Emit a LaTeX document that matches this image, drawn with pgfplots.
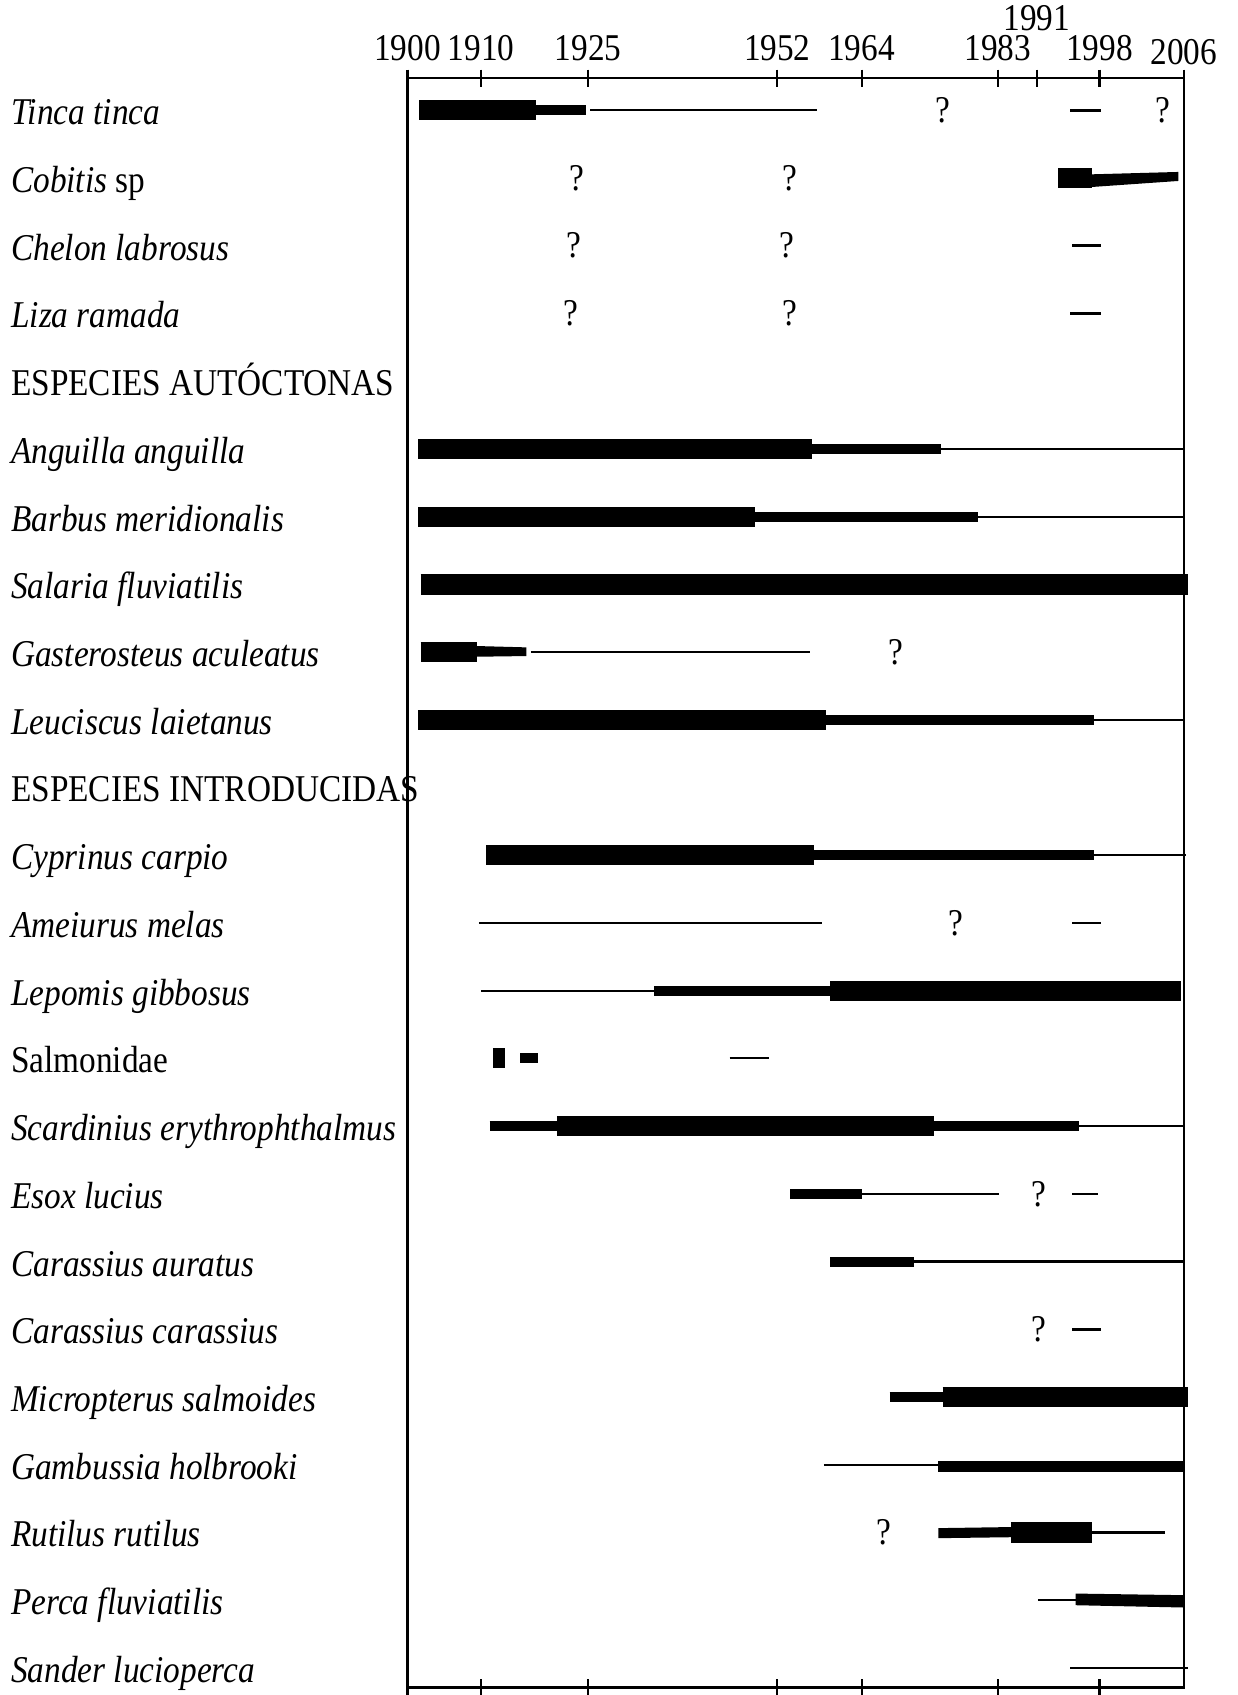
\documentclass[border=0pt]{standalone}
\usepackage{fontspec}
\setmainfont{Liberation Serif}[FakeStretch=0.88]
\usepackage{pgfplots}
\pgfplotsset{compat=1.18}
\newcommand\lf{\fontsize{17.5bp}{21bp}\selectfont}
\pgfplotsset{
  bT/.style={line width=9.3bp, black, mark=none},
  bM/.style={line width=4.6bp, black, mark=none},
  bL/.style={line width=1bp, black, mark=none},
  bD/.style={line width=1.2bp, black, mark=none},
  bP/.style={fill=black, draw=none, mark=none},
  qm/.style={only marks, mark=text, text mark={?}, text mark as node=true,
    text mark style={font=\lf, inner sep=0pt}},
  frame/.style={scale only axis, width=359bp, height=744.25bp,
    xmin=0, xmax=718, ymin=5.29, ymax=242.9, y dir=reverse, clip=false,
    axis line style={line width=1bp}, xtick align=center,
    major tick length=8bp, tick style={line width=1bp, black}},
}
\begin{document}
\begin{tikzpicture}
\begin{axis}[frame,
  xtick={0,68,167,342,420,546,582,640,718},
  xticklabels={1900,1910,1925,1952,1964,1983,\raisebox{14bp}{1991},1998,\raisebox{-2bp}{2006}},
  xtick pos=upper, xticklabel pos=upper,
  xticklabel style={font=\lf, inner sep=0pt, anchor=base, yshift=4.3bp},
  ytick={10,20,...,240},
  yticklabels={\textit{Tinca tinca},\textit{Cobitis} sp,\textit{Chelon labrosus},\textit{Liza ramada},ESPECIES AUTÓCTONAS,\textit{Anguilla anguilla},\textit{Barbus meridionalis},\textit{Salaria fluviatilis},\textit{Gasterosteus aculeatus},\textit{Leuciscus laietanus},ESPECIES INTRODUCIDAS,\textit{Cyprinus carpio},\textit{Ameiurus melas},\textit{Lepomis gibbosus},Salmonidae,\textit{Scardinius erythrophthalmus},\textit{Esox lucius},\textit{Carassius auratus},\textit{Carassius carassius},\textit{Micropterus salmoides},\textit{Gambussia holbrooki},\textit{Rutilus rutilus},\textit{Perca fluviatilis},\textit{Sander lucioperca}},
  ytick style={draw=none},
  yticklabel style={font=\lf, anchor=base west, inner sep=0pt, xshift=-183.5bp, yshift=-6.7bp},
]
% Tinca tinca
\addplot[bT] coordinates {(11,10)(119,10)};
\addplot[bM] coordinates {(119,10)(165,10)};
\addplot[bL] coordinates {(169,10)(379,10)};
\addplot[bD] coordinates {(613,10)(641,10)};
% Cobitis sp
\addplot[bT] coordinates {(602,20)(633,20)};
\addplot[bP] coordinates {(633,19.46)(713,19.11)(713,20.44)(633,21.33)};
% Chelon, Liza
\addplot[bD] coordinates {(615,30)(641,30)};
\addplot[bD] coordinates {(613,40)(641,40)};
% Anguilla
\addplot[bT] coordinates {(10,60)(374,60)};
\addplot[bM] coordinates {(374,60)(493,60)};
\addplot[bL] coordinates {(493,60)(718,60)};
% Barbus
\addplot[bT] coordinates {(10,70)(321,70)};
\addplot[bM] coordinates {(321,70)(528,70)};
\addplot[bL] coordinates {(528,70)(718,70)};
% Salaria
\addplot[bT, line width=9.6bp] coordinates {(12,80)(722,80)};
% Gasterosteus
\addplot[bT] coordinates {(12,90)(64,90)};
\addplot[bP] coordinates {(64,89.11)(110,89.31)(110,90.59)(64,90.69)};
\addplot[bL] coordinates {(114,90)(372,90)};
% Leuciscus
\addplot[bT] coordinates {(10,100)(387,100)};
\addplot[bM] coordinates {(387,100)(635,100)};
\addplot[bL] coordinates {(635,100)(718,100)};
% Cyprinus
\addplot[bT] coordinates {(73,120)(376,120)};
\addplot[bM] coordinates {(376,120)(635,120)};
\addplot[bL] coordinates {(635,120)(720,120)};
% Ameiurus
\addplot[bL] coordinates {(66,130)(383,130)};
\addplot[bD] coordinates {(615,130)(641,130)};
% Lepomis
\addplot[bL] coordinates {(68,140)(228,140)};
\addplot[bM] coordinates {(228,140)(391,140)};
\addplot[bT] coordinates {(391,140)(715,140)};
% Salmonidae
\addplot[bT] coordinates {(79,150)(90,150)};
\addplot[bM] coordinates {(104,150)(121,150)};
\addplot[bL] coordinates {(298,150)(334,150)};
% Scardinius
\addplot[bM] coordinates {(76,160)(138,160)};
\addplot[bT] coordinates {(138,160)(487,160)};
\addplot[bM] coordinates {(487,160)(621,160)};
\addplot[bL] coordinates {(621,160)(718,160)};
% Esox
\addplot[bM] coordinates {(354,170)(420,170)};
\addplot[bL] coordinates {(420,170)(547,170)};
\addplot[bD] coordinates {(615,170)(639,170)};
% Carassius auratus
\addplot[bM] coordinates {(391,180)(468,180)};
\addplot[bL] coordinates {(468,180)(718,180)};
% Carassius carassius
\addplot[bD] coordinates {(615,190)(641,190)};
% Micropterus
\addplot[bM] coordinates {(446,200)(495,200)};
\addplot[bT] coordinates {(495,200)(722,200)};
% Gambussia
\addplot[bL] coordinates {(385,210)(491,210)};
\addplot[bP] coordinates {(491,209.45)(718,209.45)(718,211.0)(491,211.0)};
% Rutilus
\addplot[bP] coordinates {(491,219.36)(558,219.2)(558,220.7)(491,220.84)};
\addplot[bT] coordinates {(558,220)(633,220)};
\addplot[bL] coordinates {(633,220)(701,220)};
% Perca
\addplot[bL] coordinates {(583,230)(618,230)};
\addplot[bP] coordinates {(618,229.02)(718,229.26)(718,231.08)(618,230.74)};
% Sander
\addplot[bL, line width=1.3bp] coordinates {(613,240)(722,240)};
% question marks
\addplot[qm] coordinates {(495,10)(699,10)(157,20)(354,20)(154,30)(351,30)(151,40)(354,40)(452,90)(507,130)(584,170)(584,190)(441,220)};
\coordinate (bbA) at (axis cs:-377,-6.28);
\coordinate (bbB) at (axis cs:768,244.0);
\end{axis}
\begin{axis}[frame,
  xtick={0,68,167,342,420,546,640},
  xtick pos=lower, xticklabels={},
  ytick=\empty,
]
\end{axis}
\pgfresetboundingbox
\path[use as bounding box] (bbA) rectangle (bbB);
\end{tikzpicture}
\end{document}
